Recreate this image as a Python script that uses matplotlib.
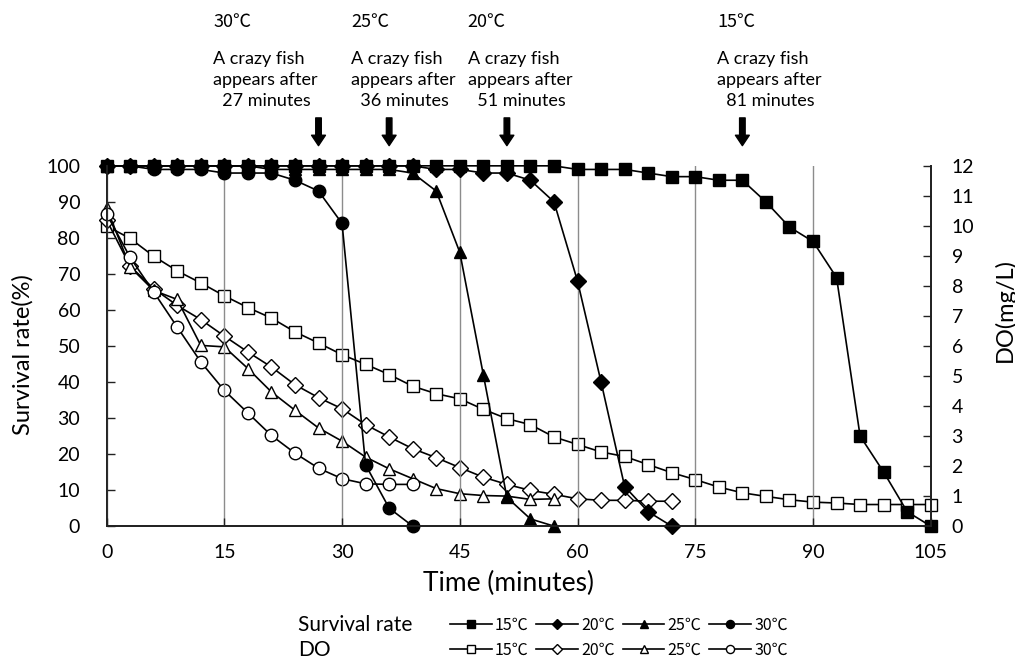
import matplotlib.pyplot as plt

plt.rcParams['font.family'] = ['Lato', 'Noto Sans CJK JP', 'DejaVu Sans']
CJK = ['Noto Sans CJK JP', 'DejaVu Sans']

# sampling times (minutes)
time_min = [0, 3, 6, 9, 12, 15, 18, 21, 24, 27, 30, 33, 36, 39, 42, 45, 48, 51,
            54, 57, 60, 63, 66, 69, 72, 75, 78, 81, 84, 87, 90, 93, 96, 99, 102, 105]

temps = ['15℃', '20℃', '25℃', '30℃']

# survival rate (%)
surv_15 = [100, 100, 100, 100, 100, 100, 100, 100, 100, 100, 100, 100, 100, 100,
           100, 100, 100, 100, 100, 100, 99, 99, 99, 98, 97, 97, 96, 96, 90, 83,
           79, 69, 25, 15, 4, 0]
surv_20 = [100, 100, 100, 100, 100, 100, 100, 100, 100, 100, 100, 100, 100, 100,
           99, 99, 98, 98, 96, 90, 68, 40, 11, 4, 0]
surv_25 = [100, 100, 100, 100, 100, 100, 100, 99, 99, 99, 99, 99, 99, 98, 93, 76,
           42, 8, 2, 0]
surv_30 = [100, 100, 99, 99, 99, 98, 98, 98, 96, 93, 84, 17, 5, 0]

# dissolved oxygen (mg/L)
do_15 = [10.0, 9.58, 8.99, 8.5, 8.1, 7.67, 7.28, 6.93, 6.47, 6.1, 5.71, 5.39, 5.05,
         4.66, 4.41, 4.24, 3.89, 3.58, 3.38, 2.97, 2.72, 2.47, 2.32, 2.05, 1.78,
         1.55, 1.3, 1.11, 0.99, 0.88, 0.8, 0.77, 0.72, 0.72, 0.72, 0.72]
do_20 = [10.2, 8.66, 7.91, 7.35, 6.88, 6.33, 5.8, 5.3, 4.71, 4.28, 3.91, 3.38, 2.97,
         2.58, 2.28, 1.95, 1.63, 1.39, 1.19, 1.06, 0.91, 0.86, 0.86, 0.83, 0.83]
do_25 = [10.6, 8.63, 7.85, 7.55, 6.02, 5.97, 5.25, 4.47, 3.86, 3.27, 2.83, 2.3, 1.91,
         1.58, 1.25, 1.08, 1.02, 1.0, 0.89, 0.91]
do_30 = [10.4, 8.95, 7.8, 6.63, 5.47, 4.52, 3.77, 3.02, 2.43, 1.93, 1.58, 1.41, 1.39,
         1.39]

# first crazy fish
crazy_temp = ['30℃', '25℃', '20℃', '15℃']
crazy_time = [27, 36, 51, 81]
crazy_text_x = [13.6, 31.2, 46.0, 77.8]

markers = ['s', 'D', '^', 'o']
msizes = [9, 8, 9, 9]

fig = plt.figure(figsize=(10.15, 6.66), dpi=100)
ax = fig.add_axes([0.105, 0.21, 0.812, 0.541])
ax2 = ax.twinx()
ax.set_zorder(ax2.get_zorder() + 1)
ax.patch.set_visible(False)

surv_lines = []
for s, m, ms, lab in zip([surv_15, surv_20, surv_25, surv_30], markers, msizes, temps):
    l, = ax.plot(time_min[:len(s)], s, color='black', lw=1.2, marker=m, ms=ms,
                 mfc='black', mec='black', clip_on=False, label=lab)
    surv_lines.append(l)

do_lines = []
for d, m, ms, lab in zip([do_15, do_20, do_25, do_30], markers, msizes, temps):
    l, = ax2.plot(time_min[:len(d)], d, color='black', lw=1.2, marker=m, ms=ms,
                  mfc='white', mec='black', mew=1.0, clip_on=False, label=lab)
    do_lines.append(l)

ax.set_xlim(0, 105)
ax.set_ylim(0, 100)
ax2.set_ylim(0, 12)
ax.set_xticks(range(0, 106, 15))
ax.set_yticks(range(0, 101, 10))
ax2.set_yticks(range(0, 13))
ax.xaxis.grid(True, color='#8c8c8c', lw=1)
ax.set_axisbelow(True)

for a in (ax, ax2):
    a.spines['top'].set_visible(False)
    for sp in ('left', 'right', 'bottom'):
        a.spines[sp].set_linewidth(1.3)
        a.spines[sp].set_color('#222222')
ax.tick_params(axis='both', direction='in', length=6, width=1, labelsize=14, color='#222222')
ax.tick_params(axis='y', pad=19)
ax.tick_params(axis='x', pad=13)
ax2.tick_params(axis='y', direction='in', length=6, width=1, labelsize=14, pad=15, color='#222222')

ax.set_xlabel('Time (minutes)', fontsize=19)
ax.set_ylabel('Survival rate(%)', fontsize=17)
ax2.set_ylabel('DO(mg/L)', fontsize=17)
ax.xaxis.set_label_coords(0.488, -0.125)
ax.yaxis.set_label_coords(-0.089, 0.475)
ax2.yaxis.set_label_coords(1.076, 0.60)

# arrows and notes
for t, tx, temp in zip(crazy_time, crazy_text_x, crazy_temp):
    ax.annotate('', xy=(t, 105.6), xytext=(t, 113.3), annotation_clip=False,
                arrowprops=dict(arrowstyle='simple,head_length=0.75,head_width=1.0,tail_width=0.4',
                                fc='black', ec='black', mutation_scale=10,
                                shrinkA=0, shrinkB=0))
    ax.text(tx, 139.9, temp, fontsize=13, family=CJK, ha='left', va='center', clip_on=False)
    ax.text(tx, 123.9, 'A crazy fish\nappears after\n  %d minutes' % t,
            fontsize=13, ha='left', va='center', linespacing=1.4, clip_on=False)

# legend rows
fig.text(298 / 1015, 1 - 625 / 666, 'Survival rate', fontsize=15, ha='left', va='center')
fig.text(298 / 1015, 1 - 650 / 666, 'DO', fontsize=15, ha='left', va='center')
leg_kw = dict(ncol=4, loc='center left', frameon=False, prop=dict(family=CJK, size=11.5),
              markerscale=0.65, handlelength=2.6, handletextpad=0.2, columnspacing=0.5,
              borderpad=0, borderaxespad=0)
fig.legend(handles=surv_lines, bbox_to_anchor=(450 / 1015, 1 - 625 / 666), **leg_kw)
fig.legend(handles=do_lines, bbox_to_anchor=(450 / 1015, 1 - 650 / 666), **leg_kw)

fig.savefig('out.png', dpi=100)
